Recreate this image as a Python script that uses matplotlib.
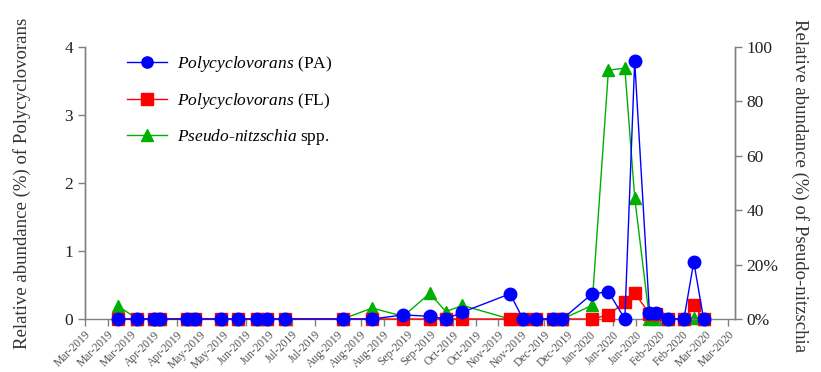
import matplotlib
matplotlib.use("Agg")
import matplotlib.pyplot as plt
import matplotlib.dates as mdates
import numpy as np
import datetime as dt

# ---- data ----
dates = ["2019-03-21", "2019-04-02", "2019-04-12", "2019-04-16", "2019-05-02", "2019-05-07",
         "2019-05-23", "2019-06-02", "2019-06-14", "2019-06-20", "2019-07-01", "2019-08-05",
         "2019-08-23", "2019-09-11", "2019-09-27", "2019-10-07", "2019-10-17", "2019-11-15",
         "2019-11-23", "2019-12-01", "2019-12-11", "2019-12-17", "2020-01-04", "2020-01-14",
         "2020-01-24", "2020-01-30", "2020-02-08", "2020-02-12", "2020-02-19", "2020-02-29",
         "2020-03-06", "2020-03-12"]
poly_pa = [0, 0, 0, 0, 0, 0, 0, 0, 0, 0, 0, 0, 0, 0.06, 0.04, 0, 0.10, 0.37, 0, 0, 0, 0,
           0.37, 0.40, 0, 3.79, 0.09, 0.09, 0, 0, 0.84, 0]
poly_fl = [0, 0, 0, 0, 0, 0, 0, 0, 0, 0, 0, 0, 0, 0, 0, 0, 0, 0, 0, 0, 0, 0,
           0, 0.06, 0.25, 0.38, 0.08, 0.08, 0, 0, 0.20, 0]
pseudo = [4.8, 0, 0, 0, 0, 0, 0, 0, 0, 0, 0, 0, 4.0, 1.0, 9.4, 2.7, 5.0, 0, 0, 0, 0, 0,
          5.0, 91.5, 92.2, 44.6, 0, 0, 0, 0, 0.5, 0]
left_ticks = [0, 1, 2, 3, 4]
right_ticks = [0, 20, 40, 60, 80, 100]
right_ticklabels = ["0%", "20%", "40", "60", "80", "100"]

plt.rcParams['font.family'] = ['Liberation Serif', 'DejaVu Serif']
plt.rcParams['mathtext.fontset'] = 'custom'
plt.rcParams['mathtext.rm'] = 'Liberation Serif'
plt.rcParams['mathtext.it'] = 'Liberation Serif:italic'

x = [dt.datetime.strptime(d, "%Y-%m-%d") for d in dates]
start = dt.datetime(2019, 3, 1)
xticks = [start + dt.timedelta(days=14 * i) for i in range(29)]

fig = plt.figure(figsize=(8.21, 3.72), dpi=100)
ax = fig.add_axes([0.1035, 0.1425, 0.7915, 0.7312])
ax2 = ax.twinx()
ax.set_zorder(ax2.get_zorder() + 1)
ax.patch.set_visible(False)

gray = '#808080'
ms = 9
l1, = ax.plot(x, poly_fl, color='#ff0000', marker='s', ms=ms, lw=1.0, clip_on=False, zorder=3,
              label=r'$\it{Polycyclovorans}$ (FL)')
l0, = ax.plot(x, poly_pa, color='#0000ff', marker='o', ms=ms, lw=1.0, clip_on=False, zorder=4,
              label=r'$\it{Polycyclovorans}$ (PA)')
l2, = ax2.plot(x, pseudo, color='#00b000', marker='^', ms=ms, lw=1.0, clip_on=False, zorder=3,
               label=r'$\it{Pseudo}$-$\it{nitzschia}$ spp.')

ax.set_xlim(start, dt.datetime(2020, 3, 31))
ax.set_ylim(0, 4)
ax2.set_ylim(0, 100)
ax.set_yticks(left_ticks)
ax.set_yticklabels([str(t) for t in left_ticks])
ax2.set_yticks(right_ticks)
ax2.set_yticklabels(right_ticklabels)

ax.set_xticks(xticks)
ax.xaxis.set_major_formatter(mdates.DateFormatter('%b-%Y'))
for lab in ax.get_xticklabels():
    lab.set_rotation(45)
    lab.set_ha('right')
    lab.set_rotation_mode('anchor')

for a in (ax, ax2):
    a.spines['top'].set_visible(False)
    for s in ('left', 'right', 'bottom'):
        a.spines[s].set_color(gray)
        a.spines[s].set_linewidth(1.0)
    a.tick_params(axis='both', colors=gray, length=5, width=1.0, labelsize=12.5, labelcolor='#222222')
ax.tick_params(axis='x', labelsize=8.3, labelcolor='#555555', pad=2)
ax2.spines['bottom'].set_visible(False)

ax.set_ylabel('Relative abundance (%) of Polycyclovorans', fontsize=13.5, color='#333333', va='center')
ax.yaxis.set_label_coords(-0.097, 0.5)
ax2.set_ylabel('Relative abundance (%) of Pseudo-nitzschia', fontsize=13.5, color='#333333',
               rotation=270, va='center')
ax2.yaxis.set_label_coords(1.1, 0.49)

leg = ax.legend(handles=[l0, l1, l2], loc='upper left', bbox_to_anchor=(0.04, 1.03),
                frameon=False, fontsize=12.5, labelspacing=0.95, handlelength=2.3,
                handletextpad=0.6, markerscale=0.9)

fig.savefig('out.png', dpi=100)
